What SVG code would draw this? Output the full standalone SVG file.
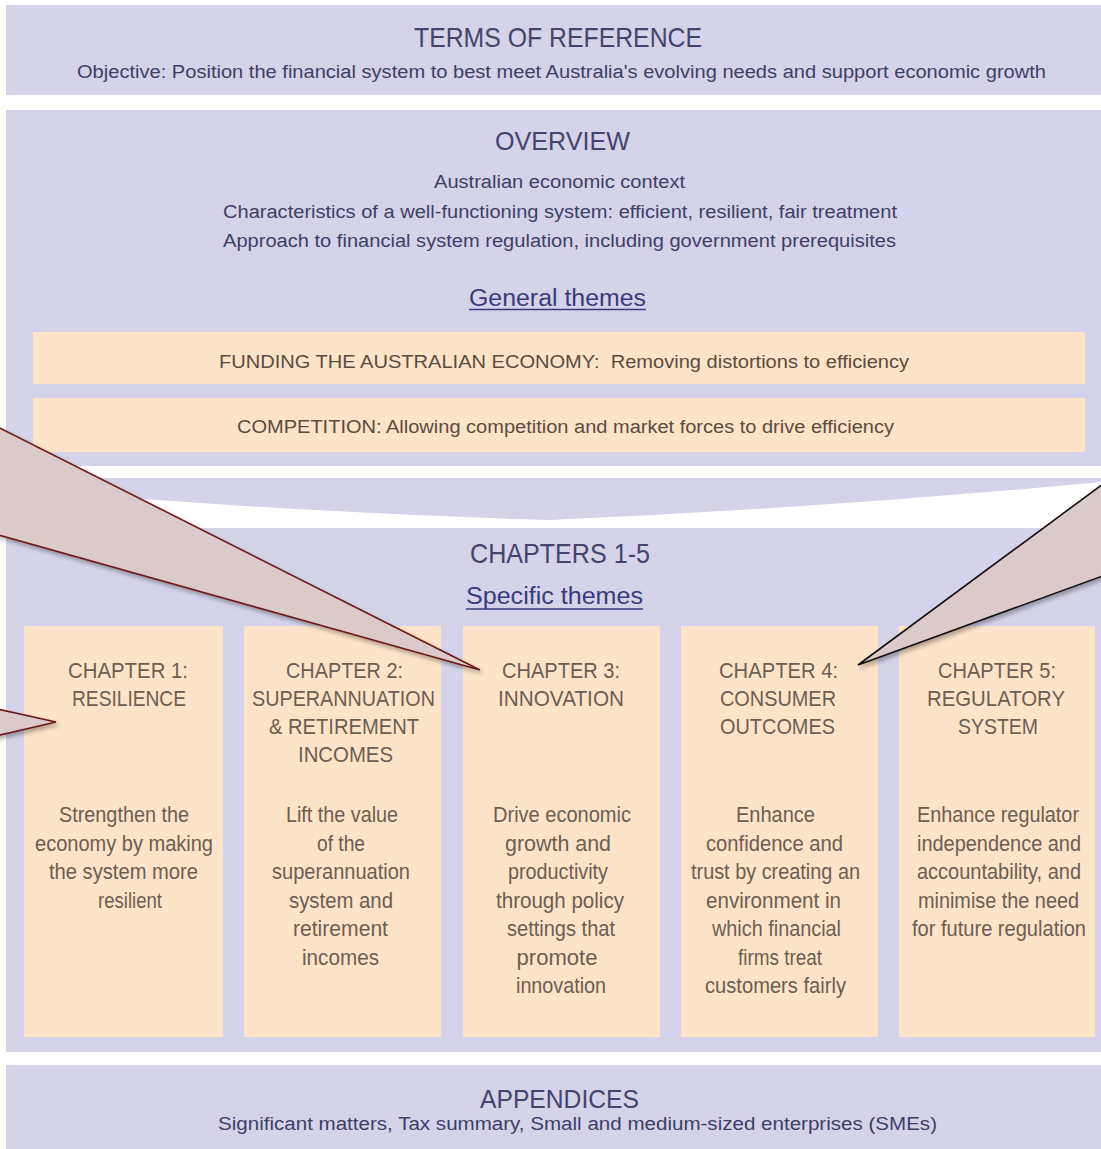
<svg xmlns="http://www.w3.org/2000/svg" width="1101" height="1149" viewBox="0 0 1101 1149">
<defs>
<style>
.lav{fill:#d4d3e9}
.org{fill:#fde3c8}
.t{font-family:"Liberation Sans",Arial,sans-serif;text-anchor:middle}
.h1{font-size:28px;fill:#45446f}
.h2{font-size:18px;fill:#3f3e68}
.th{font-size:23px;fill:#3a3a7c}
.ul{stroke:#3a3a7c;stroke-width:1.5}
.ob{font-size:18px;fill:#5c4c3e}
.ch{font-size:22px;fill:#6d5e51}
.co{stroke-width:1.6;stroke-linejoin:miter}
</style>
<filter id="sh" x="-20%" y="-20%" width="140%" height="140%">
<feDropShadow dx="2" dy="3" stdDeviation="2" flood-color="#000" flood-opacity="0.3"/>
</filter>
</defs>
<rect width="1101" height="1149" fill="#ffffff"/>

<g id="terms">
<rect class="lav" x="6" y="5" width="1095" height="90"/>
<text class="t h1" x="558" y="47" textLength="288" lengthAdjust="spacingAndGlyphs">TERMS OF REFERENCE</text>
<text class="t h2" x="561.5" y="78" textLength="969" lengthAdjust="spacingAndGlyphs">Objective: Position the financial system to best meet Australia's evolving needs and support economic growth</text>
</g>

<g id="overview">
<rect class="lav" x="6" y="110" width="1095" height="356"/>
<text class="t h1" x="562.5" y="150" style="font-size:26px" textLength="135" lengthAdjust="spacingAndGlyphs">OVERVIEW</text>
<text class="t h2" x="559.5" y="188" textLength="251" lengthAdjust="spacingAndGlyphs">Australian economic context</text>
<text class="t h2" x="560" y="218" textLength="674" lengthAdjust="spacingAndGlyphs">Characteristics of a well-functioning system: efficient, resilient, fair treatment</text>
<text class="t h2" x="559.5" y="247" textLength="673" lengthAdjust="spacingAndGlyphs">Approach to financial system regulation, including government prerequisites</text>
<text class="t th" x="557.5" y="306" textLength="177" lengthAdjust="spacingAndGlyphs">General themes</text>
<line class="ul" x1="469" y1="309.5" x2="646" y2="309.5"/>
</g>

<g id="funding">
<rect class="org" x="33" y="332" width="1052" height="52"/>
<text class="t ob" x="564" y="368" textLength="690" lengthAdjust="spacingAndGlyphs">FUNDING THE AUSTRALIAN ECONOMY:&#160; Removing distortions to efficiency</text>
</g>

<g id="competition">
<rect class="org" x="33" y="398" width="1052" height="54"/>
<text class="t ob" x="565.5" y="433" textLength="657" lengthAdjust="spacingAndGlyphs">COMPETITION: Allowing competition and market forces to drive efficiency</text>
</g>

<g id="chevron">
<path class="lav" d="M6,478 H1101 V482 Q825,508 550,520 Q278,512 6,488 Z"/>
</g>

<g id="chapters">
<rect class="lav" x="6" y="528" width="1095" height="524"/>
<text class="t h1" x="560" y="563" textLength="180" lengthAdjust="spacingAndGlyphs">CHAPTERS 1-5</text>
<text class="t th" x="554.5" y="604" textLength="177" lengthAdjust="spacingAndGlyphs">Specific themes</text>
<line class="ul" x1="466" y1="609" x2="643" y2="609"/>
</g>

<g id="ch1">
<rect class="org" x="24" y="626" width="199" height="411"/>
<text class="t ch" x="128" y="678" textLength="120" lengthAdjust="spacingAndGlyphs">CHAPTER 1:</text>
<text class="t ch" x="129" y="706" textLength="114" lengthAdjust="spacingAndGlyphs">RESILIENCE</text>
<text class="t ch" x="124" y="822" textLength="130" lengthAdjust="spacingAndGlyphs">Strengthen the</text>
<text class="t ch" x="124" y="850.5" textLength="178" lengthAdjust="spacingAndGlyphs">economy by making</text>
<text class="t ch" x="123.5" y="879" textLength="149" lengthAdjust="spacingAndGlyphs">the system more</text>
<text class="t ch" x="130" y="907.5" textLength="64" lengthAdjust="spacingAndGlyphs">resilient</text>
</g>

<g id="ch2">
<rect class="org" x="244" y="626" width="197" height="411"/>
<text class="t ch" x="344.5" y="678" textLength="117" lengthAdjust="spacingAndGlyphs">CHAPTER 2:</text>
<text class="t ch" x="343.5" y="706" textLength="183" lengthAdjust="spacingAndGlyphs">SUPERANNUATION</text>
<text class="t ch" x="344" y="734" textLength="150" lengthAdjust="spacingAndGlyphs">&amp; RETIREMENT</text>
<text class="t ch" x="345.5" y="762" textLength="95" lengthAdjust="spacingAndGlyphs">INCOMES</text>
<text class="t ch" x="342" y="822" textLength="112" lengthAdjust="spacingAndGlyphs">Lift the value</text>
<text class="t ch" x="341" y="850.5" textLength="48" lengthAdjust="spacingAndGlyphs">of the</text>
<text class="t ch" x="341" y="879" textLength="138" lengthAdjust="spacingAndGlyphs">superannuation</text>
<text class="t ch" x="341" y="907.5" textLength="104" lengthAdjust="spacingAndGlyphs">system and</text>
<text class="t ch" x="340.5" y="936" textLength="95" lengthAdjust="spacingAndGlyphs">retirement</text>
<text class="t ch" x="340.5" y="964.5" textLength="77" lengthAdjust="spacingAndGlyphs">incomes</text>
</g>

<g id="ch3">
<rect class="org" x="463" y="626" width="197" height="411"/>
<text class="t ch" x="561" y="678" textLength="118" lengthAdjust="spacingAndGlyphs">CHAPTER 3:</text>
<text class="t ch" x="561" y="706" textLength="126" lengthAdjust="spacingAndGlyphs">INNOVATION</text>
<text class="t ch" x="562" y="822" textLength="138" lengthAdjust="spacingAndGlyphs">Drive economic</text>
<text class="t ch" x="558" y="850.5" textLength="106" lengthAdjust="spacingAndGlyphs">growth and</text>
<text class="t ch" x="558" y="879" textLength="100" lengthAdjust="spacingAndGlyphs">productivity</text>
<text class="t ch" x="560" y="907.5" textLength="128" lengthAdjust="spacingAndGlyphs">through policy</text>
<text class="t ch" x="561" y="936" textLength="108" lengthAdjust="spacingAndGlyphs">settings that</text>
<text class="t ch" x="557" y="964.5" textLength="81" lengthAdjust="spacingAndGlyphs">promote</text>
<text class="t ch" x="561" y="993" textLength="90" lengthAdjust="spacingAndGlyphs">innovation</text>
</g>

<g id="ch4">
<rect class="org" x="681" y="626" width="197" height="411"/>
<text class="t ch" x="778.5" y="678" textLength="119" lengthAdjust="spacingAndGlyphs">CHAPTER 4:</text>
<text class="t ch" x="778" y="706" textLength="116" lengthAdjust="spacingAndGlyphs">CONSUMER</text>
<text class="t ch" x="777.5" y="734" textLength="115" lengthAdjust="spacingAndGlyphs">OUTCOMES</text>
<text class="t ch" x="775.5" y="822" textLength="79" lengthAdjust="spacingAndGlyphs">Enhance</text>
<text class="t ch" x="774.5" y="850.5" textLength="137" lengthAdjust="spacingAndGlyphs">confidence and</text>
<text class="t ch" x="775.5" y="879" textLength="169" lengthAdjust="spacingAndGlyphs">trust by creating an</text>
<text class="t ch" x="773.5" y="907.5" textLength="135" lengthAdjust="spacingAndGlyphs">environment in</text>
<text class="t ch" x="776.5" y="936" textLength="129" lengthAdjust="spacingAndGlyphs">which financial</text>
<text class="t ch" x="780" y="964.5" textLength="84" lengthAdjust="spacingAndGlyphs">firms treat</text>
<text class="t ch" x="775.5" y="993" textLength="141" lengthAdjust="spacingAndGlyphs">customers fairly</text>
</g>

<g id="ch5">
<rect class="org" x="899" y="626" width="196" height="411"/>
<text class="t ch" x="997" y="678" textLength="118" lengthAdjust="spacingAndGlyphs">CHAPTER 5:</text>
<text class="t ch" x="996" y="706" textLength="138" lengthAdjust="spacingAndGlyphs">REGULATORY</text>
<text class="t ch" x="998" y="734" textLength="80" lengthAdjust="spacingAndGlyphs">SYSTEM</text>
<text class="t ch" x="998" y="822" textLength="162" lengthAdjust="spacingAndGlyphs">Enhance regulator</text>
<text class="t ch" x="999" y="850.5" textLength="164" lengthAdjust="spacingAndGlyphs">independence and</text>
<text class="t ch" x="999" y="879" textLength="164" lengthAdjust="spacingAndGlyphs">accountability, and</text>
<text class="t ch" x="998.5" y="907.5" textLength="161" lengthAdjust="spacingAndGlyphs">minimise the need</text>
<text class="t ch" x="999" y="936" textLength="174" lengthAdjust="spacingAndGlyphs">for future regulation</text>
</g>

<g id="appendices">
<rect class="lav" x="6" y="1065" width="1095" height="84"/>
<text class="t h1" x="559.5" y="1108" style="font-size:26px" textLength="159" lengthAdjust="spacingAndGlyphs">APPENDICES</text>
<text class="t h2" x="577.5" y="1130" textLength="719" lengthAdjust="spacingAndGlyphs">Significant matters, Tax summary, Small and medium-sized enterprises (SMEs)</text>
</g>

<g id="callouts">
<polygon class="co" filter="url(#sh)" points="-30,413 480,670 -30,527" fill="#dccaca" stroke="#6b1a1a"/>
<polygon class="co" filter="url(#sh)" points="-30,703 56,722 -30,742" fill="#dccaca" stroke="#6b1a1a"/>
<polygon class="co" filter="url(#sh)" points="1130,464 858,665 1130,566" fill="#dccaca" stroke="#111111"/>
</g>
</svg>
